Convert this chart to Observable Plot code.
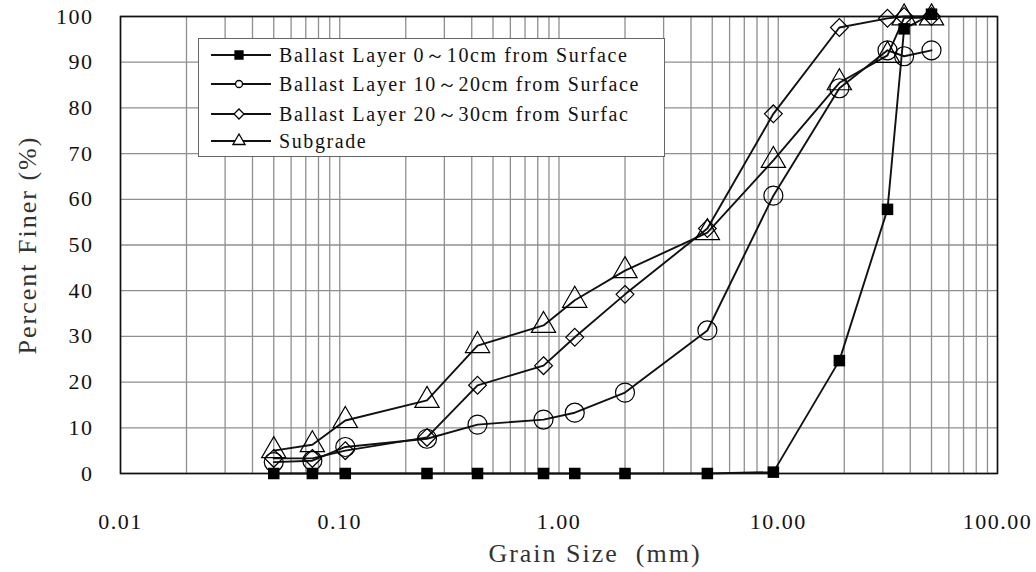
<!DOCTYPE html>
<html><head><meta charset="utf-8">
<script src="https://cdn.jsdelivr.net/npm/d3@7"></script>
<script src="https://cdn.jsdelivr.net/npm/@observablehq/plot@0.6"></script>
<style>
body{margin:0;background:#fff;}
#chart{position:relative;width:1036px;height:572px;}
#chart svg [aria-label="x-axis label"] text,
#chart svg [aria-label="y-axis label"] text{font-size:26px;letter-spacing:2px;fill:#333;}
#legend{position:absolute;left:198px;top:38px;width:465px;height:117px;background:#fff;border:1.5px solid #666;font-family:"Liberation Serif",serif;font-size:20px;letter-spacing:1.6px;color:#111;}
.row{position:absolute;left:12px;height:28px;display:flex;align-items:center;white-space:nowrap;}
.row svg{margin-right:6px;}
</style></head><body><div id="chart"></div>
<script>
// Grain sizes (mm)
const grainSize = [0.05, 0.075, 0.106, 0.25, 0.425, 0.85, 1.18, 2.0, 4.75, 9.5, 19, 31.5, 37.5, 50];
// Percent finer (%)
const layer0to10 = [0, 0, 0, 0, 0, 0, 0, 0, 0, 0.3, 24.7, 57.8, 97.3, 100.5];
const layer10to20 = [2.5, 2.8, 5.8, 7.6, 10.7, 11.8, 13.3, 17.7, 31.3, 60.8, 84.3, 92.6, 91.3, 92.6];
const layer20to30 = [3.3, 3.3, 5.0, 7.9, 19.3, 23.6, 29.8, 39.2, 53.6, 78.7, 97.6, 99.6, 100, 100];
const subgrade = [5.0, 6.3, 11.6, 16, 28, 32.4, 37.9, 44.4, 52.7, 68.5, 85.5, 91.5, 99.7, 99.7];
const seriesNames = [
  "Ballast Layer 0～10cm from Surface",
  "Ballast Layer 10～20cm from Surface",
  "Ballast Layer 20～30cm from Surfac",
  "Subgrade"
];
const xTickValues = [0.01, 0.1, 1, 10, 100];
const yTickValues = [0, 10, 20, 30, 40, 50, 60, 70, 80, 90, 100];
const xLabel = "Grain Size\u00a0 (mm)";
const yLabel = "Percent Finer (%)";

const seriesValues = [layer0to10, layer10to20, layer20to30, subgrade];
const symbolStyles = [
  {symbol: "square", r: 6.5, fill: "black", stroke: "none", strokeWidth: 0},
  {symbol: "circle", r: 9.5, fill: "none", stroke: "black", strokeWidth: 1.2},
  {symbol: "diamond2", r: 8, fill: "none", stroke: "black", strokeWidth: 1.2},
  {symbol: "triangle", r: 9, fill: "none", stroke: "black", strokeWidth: 1.2}
];
const data = seriesNames.flatMap((name, s) =>
  grainSize.map((g, i) => ({series: name, size: g, pct: seriesValues[s][i]})));

// log grid lines: 1..9 in every decade
const xGrid = d3.range(-2, 2).flatMap(e => d3.range(1, 10).map(k => +(k * Math.pow(10, e)).toPrecision(3))).concat([100]);

const plot = Plot.plot({
  width: 1036,
  height: 572,
  marginLeft: 120,
  marginRight: 39,
  marginTop: 16,
  marginBottom: 99,
  style: {fontFamily: "Liberation Serif, serif", fontSize: "22px", letterSpacing: "1.5px", color: "#111", background: "white"},
  x: {type: "log", domain: [0.01, 100], ticks: xTickValues, tickFormat: d => d.toFixed(2), tickSize: 0, tickPadding: 40,
      label: xLabel, labelAnchor: "center", labelArrow: "none", labelOffset: 88},
  y: {domain: [0, 100], ticks: yTickValues, tickSize: 0, tickPadding: 27,
      label: yLabel, labelAnchor: "center", labelArrow: "none", labelOffset: 103},
  marks: [
    Plot.ruleX(xGrid, {stroke: "#8f8f8f", strokeWidth: 1.3}),
    Plot.ruleY(yTickValues, {stroke: "#8f8f8f", strokeWidth: 1.3}),
    Plot.frame({stroke: "#111", strokeWidth: 1.6}),
    Plot.line(data, {x: "size", y: "pct", z: "series", stroke: "#111", strokeWidth: 1.9}),
    ...seriesNames.map((name, s) => Plot.dot(data.filter(d => d.series === name), {
      x: "size", y: "pct", ...symbolStyles[s]
    }))
  ]
});
const chart = document.getElementById("chart");
chart.appendChild(plot);
// the reference's x title sits a little right of the frame centre
const xl = plot.querySelector('[aria-label="x-axis label"]');
if (xl) xl.setAttribute("transform", (xl.getAttribute("transform") || "") + " translate(36,0)");

// Legend
const legend = document.createElement("div");
legend.id = "legend";
const rowTops = [2, 31, 61, 88];
seriesNames.forEach((name, s) => {
  const row = document.createElement("div");
  row.className = "row";
  row.style.top = rowTops[s] + "px";
  const st = symbolStyles[s];
  const small = {square: 4.5, circle: 3.5, diamond2: 4.5, triangle: 4.5}[st.symbol];
  const symName = {square: d3.symbolSquare, circle: d3.symbolCircle, diamond2: d3.symbolDiamond2, triangle: d3.symbolTriangle}[st.symbol];
  const path = d3.symbol(symName, Math.PI * small * small)();
  row.innerHTML = `<svg width="62" height="28"><line x1="0" x2="60" y1="14" y2="14" stroke="#111" stroke-width="2"/>` +
    `<path transform="translate(28,14)" d="${path}" fill="${st.fill === "none" ? "white" : "black"}" stroke="black" stroke-width="1.3"/></svg>` +
    `<span>${name}</span>`;
  legend.appendChild(row);
});
chart.appendChild(legend);
</script>
</body></html>
